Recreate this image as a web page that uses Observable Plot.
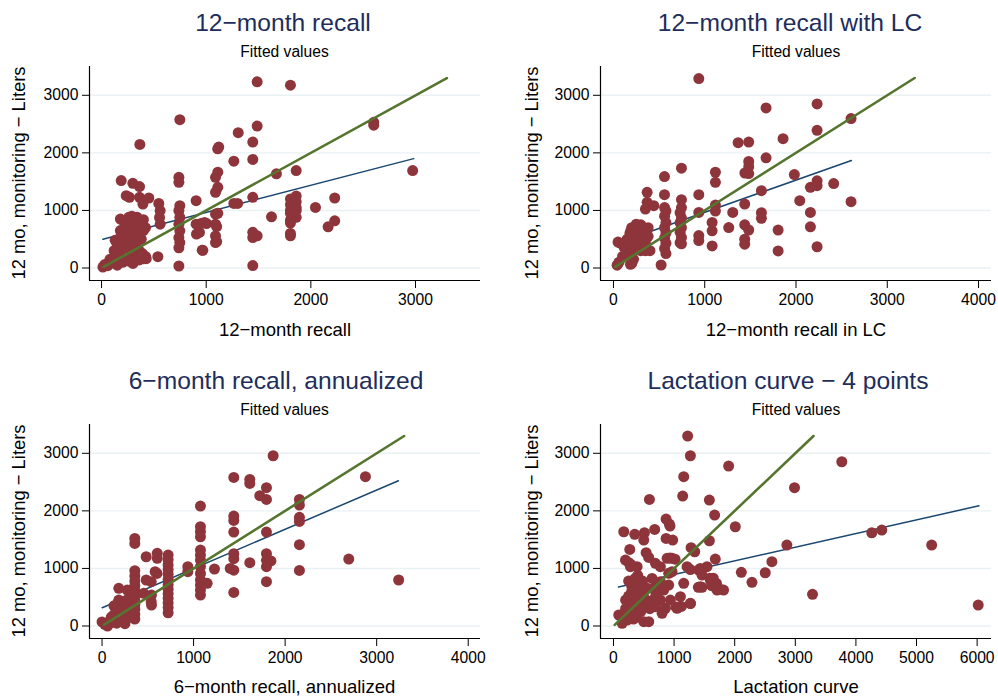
<!DOCTYPE html>
<html><head><meta charset="utf-8">
<script src="https://cdn.jsdelivr.net/npm/d3@7"></script>
<script src="https://cdn.jsdelivr.net/npm/@observablehq/plot@0.6"></script>
<style>
body{margin:0;background:#fff;}
#wrap{position:relative;width:998px;height:699px;overflow:hidden;font-family:"Liberation Sans",Arial,sans-serif;}
#wrap > svg{position:absolute;}
</style></head><body><div id="wrap"></div>
<script>
// ---------- data ----------
const titles = ["12\u2212month recall", "12\u2212month recall with LC", "6\u2212month recall, annualized", "Lactation curve \u2212 4 points"];
const xLabels = ["12\u2212month recall", "12\u2212month recall in LC", "6\u2212month recall, annualized", "Lactation curve"];
const yLabel = "12 mo, monitoring \u2212 Liters";
const legendLabel = "Fitted values";
const yTicks = [0, 1000, 2000, 3000];
const xTicks1 = [0, 1000, 2000, 3000];
const xTicks2 = [0, 1000, 2000, 3000, 4000];
const xTicks3 = [0, 1000, 2000, 3000, 4000];
const xTicks4 = [0, 1000, 2000, 3000, 4000, 5000, 6000];

const recall12 = [
[1487,3234],[1805,3176],[748,2577],[366,2147],[1487,2466],[1306,2350],[1445,2187],[1120,2100],[1110,2070],[1264,1855],[1445,1885],[1860,1693],[2973,1693],[2601,2530],[2601,2480],[1671,1635],
[1111,1664],[1089,1576],[1111,1402],[1089,1315],[1445,1227],[1264,1122],[1300,1122],[904,1169],
[950,773],[1003,773],[907,590],[962,309],[1445,620],[1487,560],[1445,530],[1445,43],[1624,890],
[1860,1250],[1805,1200],[1860,1150],[1805,1100],[1860,1050],[1805,1000],[1860,1000],[1805,950],[1860,880],[1805,830],[1805,780],[1805,600],[1805,560],
[2044,1052],[2228,1216],[2228,820],[2165,716],
[1089,937],[1111,950],[1089,762],[1100,720],[1089,558],[1100,460],[1089,442],
[739,1576],[739,1489],[748,1082],[739,995],[748,878],[739,762],[748,646],[739,529],[748,442],[739,350],[739,35],
[904,762],[936,617],[984,791],[968,308],
[547,1122],[560,995],[554,878],[560,762],
[188,1518],[299,1471],[363,1414],[236,1257],[267,1227],[363,1227],[395,1111],[452,1216],[538,197],[427,162],
[13,17],[30,60],[60,40],[100,90],[150,50],[140,180],[180,220],[200,100],[230,150],[260,120],[300,80],[320,200],[360,140],[400,160],[280,300],[220,350],[180,450],[130,480],[160,500],[200,520],[240,480],[270,420],[300,460],[330,380],[360,300],[390,250],[420,200],[300,550],[250,600],[200,650],[180,850],[260,700],[290,640],[330,600],[360,560],[380,500],[400,650],[420,700],[330,720],[300,800],[260,880],[340,880],[380,780],[400,840],[180,650],[220,780],[290,900],[350,680],[240,560],[150,380],[120,300],[80,150]
];
const recall12LC = [
[935,3290],[1672,2780],[2231,2850],[2231,2391],[2603,2595],[1858,2246],[1366,2176],[1482,2187],[1672,1914],[1482,1850],[1482,1760],[1440,1650],[1482,1640],[1982,1623],[1117,1663],[1117,1489],[745,1733],[559,1588],[369,1314],[369,1140],[350,1024],[442,1082],[559,1274],[745,1187],[935,1274],[935,966],[1117,1094],[1117,990],[1081,791],[1081,646],[1081,384],[935,564],[935,477],[1307,965],[1263,703],[1438,1111],[1438,750],[1482,660],[1438,500],[1438,413],[1621,1344],[1621,960],[1621,863],[1804,658],[1804,297],[2041,1169],[2158,1402],[2231,1430],[2231,1515],[2413,1466],[2158,966],[2158,716],[2231,369],[2603,1152],[522,52],
[560,1050],[575,990],[560,900],[575,790],[560,700],[575,610],[560,520],[575,430],[560,340],[575,250],
[745,1050],[730,960],[745,870],[730,790],[745,700],[730,620],[745,530],[730,440],[745,420],
[40,50],[60,100],[100,200],[140,300],[80,430],[50,450],[180,350],[200,250],[220,150],[250,400],[280,500],[300,600],[200,700],[250,760],[300,750],[330,700],[360,650],[380,550],[350,450],[180,600],[150,500],[220,520],[120,350],[200,80],[300,300],[350,300],[400,300],[270,650],[320,520],[380,700],[190,650],[160,250],[186,64]
];
const recall6 = [
[1869,2957],[1439,2581],[1614,2546],[1614,2477],[2877,2593],[1796,2402],[1723,2263],[1796,2199],[2156,2199],[2156,2101],[2156,1887],[2156,1817],[2156,1412],[2156,966],[1439,1910],[1439,1834],[1439,1632],[1439,1257],[1439,1169],[1400,1000],[1439,970],[1439,584],[1614,1100],[1796,1632],[1796,1257],[1796,1140],[1845,1130],[1796,1030],[1796,770],[2695,1163],[3240,799],
[1075,2083],[1075,1724],[1075,1637],[1075,1550],[1075,1319],[1075,1232],[1075,1145],[1075,1030],[1075,914],[1075,799],[1075,712],[1075,625],[1075,538],[1228,990],[1148,741],[937,1030],[937,943],
[722,1233],[722,1150],[722,1060],[722,980],[722,900],[722,810],[722,720],[722,640],[722,560],[722,480],[722,400],[722,320],[722,230],
[603,1262],[603,1175],[580,943],[600,914],[482,1203],[482,799],[537,770],[540,538],[540,364],[537,422],
[358,1522],[358,1435],
[358,960],[358,870],[358,780],[358,700],[358,620],[358,530],[358,450],[358,370],[358,290],[358,200],[358,120],
[183,654],[183,451],[275,625],[456,567],
[0,70],[30,30],[60,0],[100,60],[130,100],[160,50],[200,80],[250,40],[120,180],[150,250],[200,300],[250,200],[130,350],[180,420],[220,380],[280,300],[300,150],[270,450],[160,300],[100,150]
];
const lactation = [
[1224,3299],[1269,2957],[1900,2778],[3767,2853],[1159,2593],[2987,2402],[1142,2257],[593,2199],[1582,2188],[1669,1927],[868,1858],[922,1770],[933,1736],[2010,1724],[680,1678],[170,1637],[351,1592],[511,1620],[500,1493],[868,1522],[977,1493],[1582,1481],[4262,1620],[4427,1667],[2861,1406],[5250,1406],[1280,1360],[1340,1290],[269,1331],[539,1273],[581,1192],[1680,1163],[2614,1117],[254,1100],[287,1070],[933,1180],[1016,1160],[2109,932],[2504,925],[2285,758],[3284,550],[6018,364],[1159,741],[1461,672],[1400,672],[1700,740],[1680,680],[1760,640],[1620,700],[1270,390],[1120,340],[1030,330],[1543,1030],[1405,972],[1461,885],[1269,980],[1647,830],[1592,830],
[198,1146],[280,1030],[390,1030],[692,1088],[774,1030],[885,1175],[967,1175],[911,915],[967,943],[1214,1030],[1433,1001],[1433,682],[1598,799],[1653,712],[1708,625],[1817,625],[911,712],[637,827],[692,682],[774,769],[829,625],[555,654],[1104,509],[1269,394],[1049,307],[939,451],[774,451],[802,220],[692,335],[857,307],[500,75],[582,75],[87,191],[143,47],[226,104],
[200,450],[250,520],[300,600],[350,700],[400,740],[300,350],[280,250],[350,200],[400,300],[450,420],[500,500],[450,600],[380,550],[330,480],[250,380],[200,300],[380,150],[450,250],[520,350],[420,700],[480,780],[550,400],[600,300],[650,450],[700,560],[300,700],[250,780],[350,820],[400,880],[330,120],[260,150],[180,220]
];
// fitted (linear) values at the ends of each blue line
const fit1 = [[13,500],[2983,1900]];
const fit2 = [[40,430],[2607,1867]];
const fit3 = [[2,318],[3237,2523]];
const fit4 = [[82,677],[6030,2088]];
// 45-degree reference line
const diag = [[20,20],[3300,3300]];

// ---------- layout ----------
const MAROON = "#8e353c", NAVY = "#1a476f", GREEN = "#55752f", TITLE = "#1e2d5b", GRID = "#eaf1f4";
const yDomain = [-217, 3500];
const fmt = d => String(d);
const panels = [
  {data: recall12, fit: fit1, xt: xTicks1, xd: [-115, 3621], left: 0, top: 0, w: 499, h: 349, ml: 89, mr: 19, mt: 66, mb: 69,
   title: titles[0], xlab: xLabels[0], tx: 283, sx: 284.5, ty: 31, sy: 57, lx: 285, ly: 336, yx: 24.5, yy: 173},
  {data: recall12LC, fit: fit2, xt: xTicks2, xd: [-142, 4142], left: 499, top: 0, w: 499, h: 349, ml: 101, mr: 7, mt: 66, mb: 69,
   title: titles[1], xlab: xLabels[1], tx: 790, sx: 796, ty: 31, sy: 57, lx: 796, ly: 336, yx: 537.5, yy: 173},
  {data: recall6, fit: fit3, xt: xTicks3, xd: [-137, 4134], left: 0, top: 349, w: 499, h: 350, ml: 89, mr: 19, mt: 75, mb: 61,
   title: titles[2], xlab: xLabels[2], tx: 276, sx: 284.5, ty: 389, sy: 415, lx: 284.5, ly: 693, yx: 24.5, yy: 531},
  {data: lactation, fit: fit4, xt: xTicks4, xd: [-214, 6237], left: 499, top: 349, w: 499, h: 350, ml: 101, mr: 7, mt: 75, mb: 61,
   title: titles[3], xlab: xLabels[3], tx: 788, sx: 796, ty: 389, sy: 415, lx: 796, ly: 693, yx: 537.5, yy: 531}
];

const wrap = document.getElementById("wrap");
const px = d => d[0], py = d => d[1];

for (const p of panels) {
  const chart = Plot.plot({
    width: p.w, height: p.h,
    marginLeft: p.ml, marginRight: p.mr, marginTop: p.mt, marginBottom: p.mb,
    style: {fontFamily: '"Liberation Sans", Arial, sans-serif', fontSize: "15.7px", background: "white", color: "black", overflow: "visible"},
    x: {domain: p.xd},
    y: {domain: yDomain},
    marks: [
      Plot.ruleY(yTicks, {stroke: GRID, strokeWidth: 1.4}),
      Plot.line(p.fit, {x: px, y: py, stroke: NAVY, strokeWidth: 1.5}),
      Plot.dot(p.data, {x: px, y: py, r: 5.5, fill: MAROON, stroke: "none"}),
      Plot.line(diag, {x: px, y: py, stroke: GREEN, strokeWidth: 2.6}),
      Plot.ruleX([p.xd[0]], {stroke: "black", strokeWidth: 1.2}),
      Plot.ruleY([yDomain[0]], {stroke: "black", strokeWidth: 1.2}),
      Plot.axisY({ticks: yTicks, tickFormat: fmt, tickSize: 7, tickPadding: 4, label: null, fontSize: 15.7, stroke: "black"}),
      Plot.axisX({ticks: p.xt, tickFormat: fmt, tickSize: 8, tickPadding: 5, label: null, fontSize: 15.7, stroke: "black"})
    ]
  });
  chart.style.left = p.left + "px";
  chart.style.top = p.top + "px";
  wrap.appendChild(chart);
}

// ---------- text overlay ----------
const ov = d3.select(wrap).append("svg")
  .attr("width", 998).attr("height", 699)
  .style("left", "0px").style("top", "0px").style("pointer-events", "none")
  .style("font-family", '"Liberation Sans", Arial, sans-serif');
for (const p of panels) {
  ov.append("text").attr("x", p.tx).attr("y", p.ty).attr("text-anchor", "middle")
    .attr("font-size", 24.6).attr("fill", TITLE).text(p.title);
  ov.append("text").attr("x", p.sx).attr("y", p.sy).attr("text-anchor", "middle")
    .attr("font-size", 15.6).attr("fill", "black").text(legendLabel);
  ov.append("text").attr("x", p.lx).attr("y", p.ly).attr("text-anchor", "middle")
    .attr("font-size", 18.5).attr("fill", "black").text(p.xlab);
  ov.append("text").attr("transform", `translate(${p.yx},${p.yy}) rotate(-90)`).attr("text-anchor", "middle")
    .attr("font-size", 18.4).attr("fill", "black").text(yLabel);
}
</script>
</body></html>
